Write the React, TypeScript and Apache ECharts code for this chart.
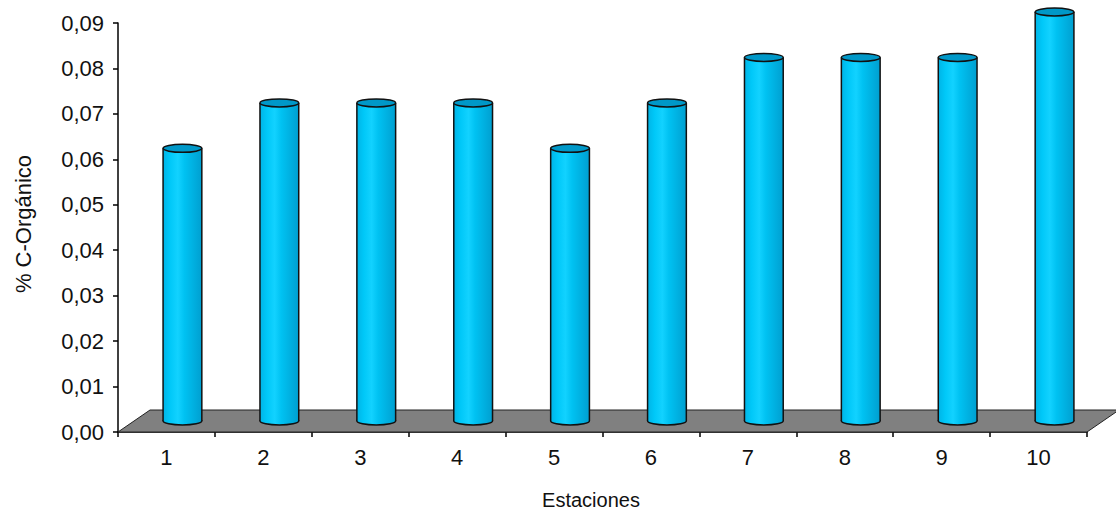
import React, { useEffect, useRef } from "react";
import * as echarts from "echarts";

const stations = ["1", "2", "3", "4", "5", "6", "7", "8", "9", "10"];
const carbonValues = [0.06, 0.07, 0.07, 0.07, 0.06, 0.07, 0.08, 0.08, 0.08, 0.09];
const yTicks = { min: 0, max: 0.09, interval: 0.01 };

const FONT = "'Liberation Sans', Arial, sans-serif";
const HALF_DX = 16;
const HALF_DY = -11;

export default function App() {
  const ref = useRef<HTMLDivElement>(null);
  useEffect(() => {
    if (!ref.current) return;
    const chart = echarts.init(ref.current, undefined, { renderer: "svg" });
    const bodyGrad = new echarts.graphic.LinearGradient(0, 0, 1, 0, [
      { offset: 0, color: "#00B4E6" },
      { offset: 0.18, color: "#00C8F8" },
      { offset: 0.38, color: "#12D2FF" },
      { offset: 0.55, color: "#00C2F2" },
      { offset: 1, color: "#009FD0" },
    ]);
    chart.setOption({
      animation: false,
      backgroundColor: "#ffffff",
      grid: { left: 118, right: 29, top: 23, bottom: 80, containLabel: false },
      xAxis: {
        type: "category",
        data: stations,
        boundaryGap: true,
        axisLine: { show: true, lineStyle: { color: "#000", width: 1.5 } },
        axisTick: { show: true, length: 5, inside: false, lineStyle: { color: "#000", width: 1.5 } },
        axisLabel: { color: "#111", fontSize: 22, fontFamily: FONT, margin: 14 },
        splitLine: { show: false },
      },
      yAxis: {
        type: "value",
        min: yTicks.min,
        max: yTicks.max,
        interval: yTicks.interval,
        axisLine: { show: true, lineStyle: { color: "#000", width: 1.5 } },
        axisTick: { show: true, length: 5, lineStyle: { color: "#000", width: 1.5 } },
        axisLabel: {
          color: "#111",
          fontSize: 22,
          fontFamily: FONT,
          margin: 14,
          formatter: (v: number) => v.toFixed(2).replace(".", ","),
        },
        splitLine: { show: false },
      },
      graphic: [
        {
          type: "text",
          x: 23,
          y: 224,
          rotation: Math.PI / 2,
          style: {
            text: "% C-Orgánico",
            fill: "#111",
            font: `22px ${FONT}`,
            align: "center",
            verticalAlign: "middle",
          },
        },
        {
          type: "text",
          x: 591,
          y: 500,
          style: {
            text: "Estaciones",
            fill: "#111",
            font: `20px ${FONT}`,
            align: "center",
            verticalAlign: "middle",
          },
        },
      ],
      series: [
        {
          type: "custom",
          name: "floor",
          z: 1,
          data: [[0, 0]],
          renderItem: (params: any, api: any) => {
            const cs = params.coordSys;
            const y0 = api.coord([0, 0])[1];
            const x0 = cs.x;
            const x1 = cs.x + cs.width;
            return {
              type: "polygon",
              shape: {
                points: [
                  [x0, y0],
                  [x1, y0],
                  [x1 + 2 * HALF_DX, y0 + 2 * HALF_DY],
                  [x0 + 2 * HALF_DX, y0 + 2 * HALF_DY],
                ],
              },
              style: { fill: "#808080", stroke: "#222", lineWidth: 1 },
            };
          },
        },
        {
          type: "custom",
          name: "% C-Orgánico",
          z: 3,
          data: carbonValues.map((v, i) => [i, v]),
          renderItem: (params: any, api: any) => {
            const idx = api.value(0);
            const val = api.value(1);
            const top = api.coord([idx, val]);
            const base = api.coord([idx, 0]);
            const w = api.size([1, 0])[0] * 0.4;
            const rx = w / 2;
            const ry = 4;
            const cx = top[0] + HALF_DX;
            const topY = top[1] + HALF_DY;
            const botY = base[1] + HALF_DY;
            return {
              type: "group",
              children: [
                {
                  type: "ellipse",
                  shape: { cx, cy: botY, rx, ry },
                  style: { fill: bodyGrad, stroke: "#111", lineWidth: 1.5 },
                },
                {
                  type: "rect",
                  shape: { x: cx - rx, y: topY, width: w, height: botY - topY },
                  style: { fill: bodyGrad, lineWidth: 0 },
                },
                {
                  type: "line",
                  shape: { x1: cx - rx, y1: topY, x2: cx - rx, y2: botY },
                  style: { stroke: "#111", lineWidth: 1.5 },
                },
                {
                  type: "line",
                  shape: { x1: cx + rx, y1: topY, x2: cx + rx, y2: botY },
                  style: { stroke: "#111", lineWidth: 1.5 },
                },
                {
                  type: "ellipse",
                  shape: { cx, cy: topY, rx, ry },
                  style: { fill: "#0098C8", stroke: "#111", lineWidth: 1.5 },
                },
              ],
            };
          },
        },
      ],
    });
    return () => chart.dispose();
  }, []);
  return (
    <div
      ref={ref}
      style={{ position: "fixed", left: 0, top: 0, width: 1116, height: 512, background: "#fff" }}
    />
  );
}
